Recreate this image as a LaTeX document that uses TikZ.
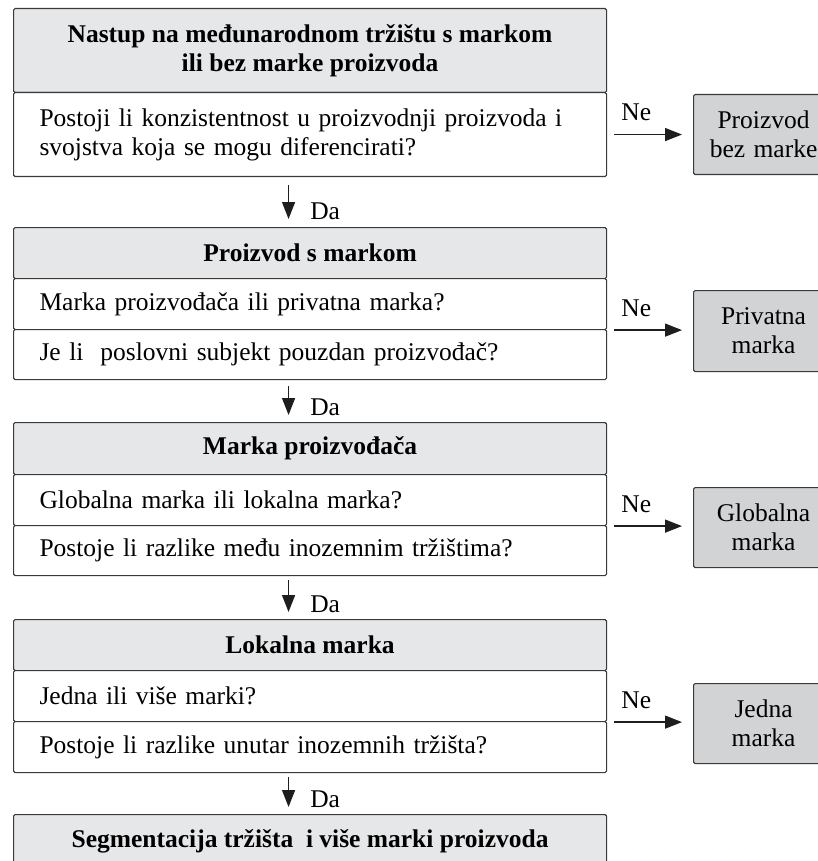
\documentclass[tikz,border=0pt]{standalone}
\usepackage{fontspec}
\setmainfont{Liberation Serif}
\usetikzlibrary{arrows.meta}
\definecolor{ln}{HTML}{3A3A3A}
\definecolor{hd}{HTML}{E6E7E8}
\definecolor{rb}{HTML}{D1D3D4}
\definecolor{ar}{HTML}{1E1E1E}
\begin{document}
\begin{tikzpicture}[x=1pt,y=-1pt,
  box/.style={draw=ln, line width=1.1pt, rounded corners=1.5pt, anchor=north west, inner sep=0pt},
  hdr/.style={box, fill=hd, minimum width=593pt, align=center,
    font=\bfseries\fontsize{25.5}{28.5}\selectfont},
  row/.style={box, fill=white, text width=541pt, inner xsep=26pt, align=left,
    font=\fontsize{25.5}{29}\selectfont},
  res/.style={box, fill=rb, minimum width=140pt, text width=125pt, align=center,
    font=\fontsize{25.5}{29}\selectfont},
  arr/.style={draw=ar, line width=1.4pt, -{Triangle[length=17pt,width=13pt]}},
  lab/.style={inner sep=0pt, font=\fontsize{25.5}{28}\selectfont}
]
\clip (0,0) rectangle (818,861);
% group 1
\node[hdr, minimum height=84pt] (h1) at (13,8) {Nastup na međunarodnom tržištu s markom\\ili bez marke proizvoda};
\node[row, minimum height=84pt] (q1) at (13,92) {Postoji li konzistentnost u proizvodnji proizvoda i\\svojstva koja se mogu diferencirati?};
\node[res, minimum height=80pt] (p1) at (693,94) {Proizvod\\bez marke};
% group 2
\node[hdr, minimum height=51pt] (h2) at (13,227) {Proizvod s markom};
\node[row, minimum height=51pt] (q2a) at (13,278) {Marka proizvođača ili privatna marka?};
\node[row, minimum height=50pt] (q2b) at (13,329) {Je li\ \ poslovni subjekt pouzdan proizvođač?};
\node[res, minimum height=81pt] (p2) at (693,290) {Privatna\\marka};
% group 3
\node[hdr, minimum height=52pt] (h3) at (13,422) {Marka proizvođača};
\node[row, minimum height=51pt] (q3a) at (13,474) {Globalna marka ili lokalna marka?};
\node[row, minimum height=50pt] (q3b) at (13,525) {Postoje li razlike među inozemnim tržištima?};
\node[res, minimum height=80pt] (p3) at (693,487) {Globalna\\marka};
% group 4
\node[hdr, minimum height=51pt] (h4) at (13,619) {Lokalna marka};
\node[row, minimum height=51pt] (q4a) at (13,670) {Jedna ili više marki?};
\node[row, minimum height=51pt] (q4b) at (13,721) {Postoje li razlike unutar inozemnih tržišta?};
\node[res, minimum height=80pt] (p4) at (693,683) {Jedna\\marka};
% group 5
\node[hdr, minimum height=54pt] (h5) at (13,814) {Segmentacija tržišta\ \ i više marki proizvoda};
% Ne arrows
\draw[arr, shorten <=7pt, shorten >=11pt] (q1.east) -- (p1.west |- q1.east)
  node[lab, pos=0.34, anchor=base, yshift=14pt] {Ne};
\draw[arr, shorten <=7pt, shorten >=11pt] (q2a.south east) -- (p2.west |- q2a.south east)
  node[lab, pos=0.34, anchor=base, yshift=14pt] {Ne};
\draw[arr, shorten <=7pt, shorten >=11pt] (q3a.south east) -- (p3.west |- q3a.south east)
  node[lab, pos=0.34, anchor=base, yshift=14pt] {Ne};
\draw[arr, shorten <=7pt, shorten >=11pt] (q4a.south east) -- (p4.west |- q4a.south east)
  node[lab, pos=0.34, anchor=base, yshift=14pt] {Ne};
% Da arrows
\draw[arr, shorten <=8pt, shorten >=8pt] ([xshift=-21.5pt]q1.south) -- ([xshift=-21.5pt]h2.north)
  node[lab, pos=0.85, anchor=base west, xshift=21pt] {Da};
\draw[arr, shorten <=6pt, shorten >=7pt] ([xshift=-21.5pt]q2b.south) -- ([xshift=-21.5pt]h3.north)
  node[lab, pos=0.85, anchor=base west, xshift=21pt] {Da};
\draw[arr, shorten <=4pt, shorten >=7pt] ([xshift=-21.5pt]q3b.south) -- ([xshift=-21.5pt]h4.north)
  node[lab, pos=0.85, anchor=base west, xshift=21pt] {Da};
\draw[arr, shorten <=4pt, shorten >=7pt] ([xshift=-21.5pt]q4b.south) -- ([xshift=-21.5pt]h5.north)
  node[lab, pos=0.85, anchor=base west, xshift=21pt] {Da};
\end{tikzpicture}
\end{document}
